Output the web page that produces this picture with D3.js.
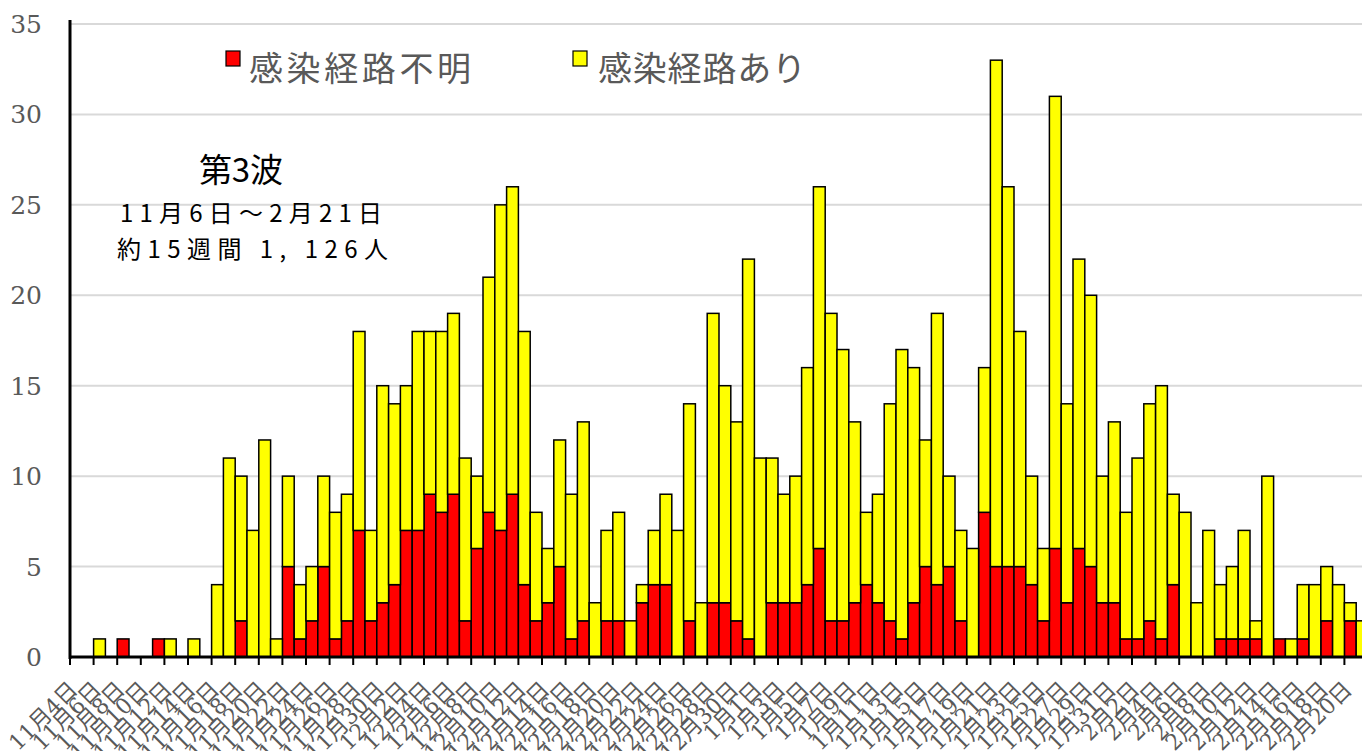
<!DOCTYPE html>
<html lang="ja">
<head>
<meta charset="UTF-8">
<title>第3波 感染経路別</title>
<script src="https://d3js.org/d3.v7.min.js"></script>
<style>
  html, body { margin: 0; padding: 0; background: #fff; }
  svg { display: block; }
  .ylab, .xlab { font-family: "DejaVu Serif", "Noto Sans CJK JP", serif; fill: #595959; }
  .legend, .note { font-family: "Noto Sans CJK JP", "Noto Sans", sans-serif; }
</style>
</head>
<body>
<svg id="chart" width="1362" height="751"></svg>
<script>
// daily counts, 11/4 .. 2/21 (110 days)
var unknownRoute = [
  0,0,0,0,1,0,0,1,0,0, 0,0,0,0,2,0,0,0,5,1,
  2,5,1,2,7,2,3,4,7,7, 9,8,9,2,6,8,7,9,4,2,
  3,5,1,2,0,2,2,0,3,4, 4,0,2,0,3,3,2,1,0,3,
  3,3,4,6,2,2,3,4,3,2, 1,3,5,4,5,2,0,8,5,5,
  5,4,2,6,3,6,5,3,3,1, 1,2,1,4,0,0,0,1,1,1,
  1,0,1,0,1,0,2,0,2,0
];
var knownRoute = [
  0,0,1,0,0,0,0,0,1,0, 1,0,4,11,8,7,12,1,5,3,
  3,5,7,7,11,5,12,10,8,11, 9,10,10,9,4,13,18,17,14,6,
  3,7,8,11,3,5,6,2,1,3, 5,7,12,3,16,12,11,21,11,8,
  6,7,12,20,17,15,10,4,6,12, 16,13,7,15,5,5,6,8,28,21,
  13,6,4,25,11,16,15,7,10,7, 10,12,14,5,8,3,7,3,4,6,
  1,10,0,1,3,4,3,4,1,2
];
var yTicks = [0, 5, 10, 15, 20, 25, 30, 35];
var seriesNames = ["感染経路不明", "感染経路あり"];
var seriesColors = ["#ff0000", "#ffff00"];

// category labels  "11月4日" ...
var days = d3.timeDay.range(new Date(2020, 10, 4), new Date(2021, 1, 22));
var categories = days.map(function (d) { return (d.getMonth() + 1) + "月" + d.getDate() + "日"; });

var rows = categories.map(function (c, i) {
  return { cat: c, unknown: unknownRoute[i], known: knownRoute[i] };
});

var svg = d3.select("#chart");
var x0 = 70, bw = 11.8;
var baseY = 657, topY = 24;

var x = d3.scaleBand().domain(categories).range([x0, x0 + bw * categories.length]).padding(0);
var y = d3.scaleLinear().domain([0, 35]).range([baseY, topY]);

// gridlines
svg.append("g").selectAll("line").data(yTicks.slice(1)).enter().append("line")
  .attr("x1", x0).attr("x2", 1362)
  .attr("y1", function (d) { return y(d); }).attr("y2", function (d) { return y(d); })
  .attr("stroke", "#d9d9d9").attr("stroke-width", 2);

// y labels
svg.append("g").selectAll("text").data(yTicks).enter().append("text")
  .attr("class", "ylab")
  .attr("x", 42).attr("y", function (d) { return y(d); })
  .attr("dy", "0.36em")
  .attr("text-anchor", "end")
  .attr("font-size", 25)
  .text(function (d) { return d; });

// stacked bars
var stack = d3.stack().keys(["unknown", "known"]);
var layers = stack(rows);

svg.append("g").selectAll("g").data(layers).enter().append("g")
  .attr("fill", function (d, i) { return seriesColors[i]; })
  .selectAll("rect")
  .data(function (d) { return d.filter(function (p) { return p[1] > p[0]; }); })
  .enter().append("rect")
  .attr("x", function (d) { return x(d.data.cat); })
  .attr("y", function (d) { return y(d[1]); })
  .attr("width", x.bandwidth())
  .attr("height", function (d) { return y(d[0]) - y(d[1]); })
  .attr("stroke", "#000")
  .attr("stroke-width", 1.5);

// axes lines
svg.append("line").attr("x1", x0).attr("x2", x0).attr("y1", 20).attr("y2", baseY + 2)
  .attr("stroke", "#000").attr("stroke-width", 3);
svg.append("line").attr("x1", x0 - 1).attr("x2", 1362).attr("y1", baseY).attr("y2", baseY)
  .attr("stroke", "#000").attr("stroke-width", 3);

// x ticks every 2 days
var tickCats = categories.filter(function (c, i) { return i % 2 === 0; });
svg.append("g").selectAll("line").data(tickCats).enter().append("line")
  .attr("x1", function (d) { return x(d); }).attr("x2", function (d) { return x(d); })
  .attr("y1", baseY).attr("y2", baseY + 8)
  .attr("stroke", "#000").attr("stroke-width", 2);

// x labels, rotated
svg.append("g").selectAll("text").data(tickCats).enter().append("text")
  .attr("class", "xlab")
  .attr("font-size", 22)
  .attr("text-anchor", "end")
  .attr("transform", function (d) {
    return "translate(" + (x(d) + x.bandwidth() / 2 + 3) + "," + 691 + ") rotate(-45)";
  })
  .text(function (d) { return d; });

// legend
var legend = [
  { x: 226, tx: 249, len: 222 },
  { x: 573, tx: 598, len: 208 }
];
legend.forEach(function (l, i) {
  svg.append("rect").attr("x", l.x).attr("y", 51).attr("width", 14).attr("height", 15)
    .attr("fill", seriesColors[i]).attr("stroke", "#000").attr("stroke-width", 1.2);
  svg.append("text").attr("class", "legend")
    .attr("x", l.tx).attr("y", 81)
    .attr("font-size", 34).attr("fill", "#595959")
    .attr("textLength", l.len).attr("lengthAdjust", "spacing")
    .text(seriesNames[i]);
});

// note
var notes = [
  { t: "第3波", x: 199, y: 182, size: 33, len: 84 },
  { t: "11月6日～2月21日", x: 120, y: 222, size: 24, len: 262 },
  { t: "約15週間  1, 126人", x: 117, y: 258, size: 24, len: 271 }
];
notes.forEach(function (n) {
  svg.append("text").attr("class", "note")
    .attr("x", n.x).attr("y", n.y)
    .attr("font-size", n.size).attr("fill", "#000")
    .attr("textLength", n.len).attr("lengthAdjust", "spacing")
    .text(n.t);
});
</script>
</body>
</html>
